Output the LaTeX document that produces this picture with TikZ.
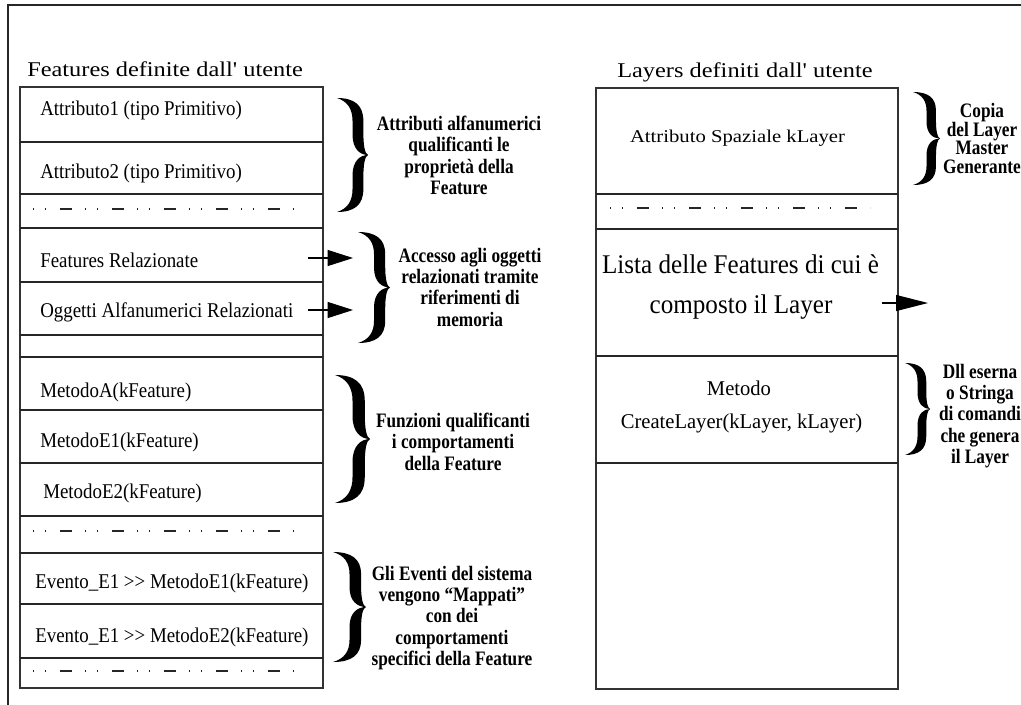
\documentclass[tikz,border=0pt]{standalone}
\usepackage{fontspec}
\setmainfont{Liberation Serif}
\newfontfamily\titlefont[FakeStretch=1.16]{Liberation Serif}
\newfontfamily\rowfont[FakeStretch=0.9]{Liberation Serif}
\newfontfamily\spatfont[FakeStretch=1.15]{Liberation Serif}
\newfontfamily\listfont[FakeStretch=0.93]{Liberation Serif}
\newfontfamily\methfont[FakeStretch=0.98]{Liberation Serif}
\newfontfamily\annfont[FakeStretch=0.84]{Liberation Serif}
\usetikzlibrary{arrows.meta}
\newcommand\BraceShape[4]{%
  \fill[shift={(#1,#2)}, xscale=#3, yscale=#4]
    (0,0) .. controls (0.55,0) and (0.85,0.06) .. (0.85,0.2)
    -- (0.85,0.3) .. controls (0.85,0.42) and (0.9,0.49) .. (1,0.5)
    .. controls (0.9,0.51) and (0.85,0.58) .. (0.85,0.7)
    -- (0.85,0.8) .. controls (0.85,0.94) and (0.55,1) .. (0,1)
    .. controls (0.35,0.97) and (0.5,0.9) .. (0.5,0.8)
    -- (0.5,0.68) .. controls (0.5,0.55) and (0.75,0.5) .. (1,0.5)
    .. controls (0.75,0.5) and (0.5,0.45) .. (0.5,0.32)
    -- (0.5,0.2) .. controls (0.5,0.1) and (0.35,0.03) .. (0,0) -- cycle;}
\tikzset{
  frameline/.style={line width=1pt, black!85},
  boxline/.style={line width=1.1pt, black!80},
  rowline/.style={line width=0.9pt, black!85},
  thickline/.style={line width=1.8pt, black!85},
  dashdotline/.style={line width=1.2pt, black!85, dash pattern=on 1.1pt off 7.9pt on 1.1pt off 10.1pt on 9pt off 9.8pt},
  titletext/.style={inner sep=0, anchor=base west, font=\titlefont\fontsize{15.75}{18}\selectfont},
  rowtext/.style={inner sep=0, anchor=base west, font=\rowfont\fontsize{15.75}{18}\selectfont},
  spattext/.style={inner sep=0, anchor=base, font=\spatfont\fontsize{13.5}{16}\selectfont},
  listtext/.style={inner sep=0, anchor=base, font=\listfont\fontsize{20.25}{24}\selectfont},
  methtext/.style={inner sep=0, anchor=base, font=\methfont\fontsize{15.75}{18}\selectfont},
  annot/.style={inner sep=0, anchor=north, align=center, font=\annfont\bfseries\fontsize{15.4}{15.9}\selectfont},
  annotsmall/.style={inner sep=0, anchor=north, align=center, font=\annfont\bfseries\fontsize{15.4}{14}\selectfont},
  pointer/.style={line width=0.8pt, -{Triangle[length=19pt,width=12pt]}},
  pointerbig/.style={line width=0.8pt, -{Triangle[length=24pt,width=12pt]}},
}
\begin{document}
\begin{tikzpicture}[x=0.75pt,y=-0.75pt]
\clip (0,0) rectangle (1021,704);
\fill[white] (0,0) rectangle (1021,704);
% outer frame
\draw[frameline] (8,720) -- (8,5) -- (1040,5);

% titles
\node[titletext] (t1) at (27,76) {Features definite dall' utente};
\node[titletext] (t2) at (617,77) {Layers definiti dall' utente};

% left box
\draw[boxline] (20,87) rectangle (323,688);
\foreach \yy in {142,194,228,282,335,357,463,516,553,604,658}
  \draw[rowline] (20,\yy) -- (323,\yy);
\draw[thickline] (20,410) -- (323,410);
\draw[dashdotline] (33,209) -- (294,209);
\draw[dashdotline] (33,531) -- (294,531);
\draw[dashdotline] (33,671) -- (294,671);

\node[rowtext] (r1) at (40,115) {Attributo1 (tipo Primitivo)};
\node[rowtext] (r2) at (40,178) {Attributo2 (tipo Primitivo)};
\node[rowtext] (r3) at (40,267) {Features Relazionate};
\node[rowtext] (r4) at (40,317) {Oggetti Alfanumerici Relazionati};
\node[rowtext] (r5) at (40,397) {MetodoA(kFeature)};
\node[rowtext] (r6) at (40,447) {MetodoE1(kFeature)};
\node[rowtext] (r7) at (43,498) {MetodoE2(kFeature)};
\node[rowtext] (r8) at (35,588) {Evento\_E1 >> MetodoE1(kFeature)};
\node[rowtext] (r9) at (35,642) {Evento\_E1 >> MetodoE2(kFeature)};

% right box
\draw[boxline] (596,88) rectangle (898,689);
\foreach \yy in {194,356,463}
  \draw[rowline] (596,\yy) -- (898,\yy);
\draw[thickline] (596,229) -- (898,229);
\draw[dashdotline] (610,208) -- (870,208);

\node[spattext] (s1) at (737.5,142) {Attributo Spaziale kLayer};
\node[listtext] (s2) at (740.5,273) {Lista delle Features di cui è};
\node[listtext] (s3) at (741,313) {composto il Layer};
\node[methtext] (s4) at (739,395) {Metodo};
\node[methtext] (s5) at (741.5,428) {CreateLayer(kLayer, kLayer)};

% arrows
\coordinate (a1s) at (308,258);
\coordinate (a1e) at (353,258);
\coordinate (a2s) at (308,310);
\coordinate (a2e) at (353,310);
\coordinate (a3s) at (882,303);
\coordinate (a3e) at (928,303);
\draw[pointer] (a1s) -- (a1e);
\draw[pointer] (a2s) -- (a2e);
\draw[pointerbig] (a3s) -- (a3e);

% braces
\BraceShape{337}{98}{31}{114}
\BraceShape{358}{232}{32}{111}
\BraceShape{335}{375}{35}{128}
\BraceShape{333}{552}{33}{110}
\BraceShape{913}{92}{27}{93}
\BraceShape{905}{363}{25}{92}

% annotations
\node[annot] (n1) at (459,116) {Attributi alfanumerici\\qualificanti le\\proprietà della\\Feature};
\node[annot] (n2) at (470,248) {Accesso agli oggetti\\relazionati tramite\\riferimenti di\\memoria};
\node[annot] (n3) at (453,413) {Funzioni qualificanti\\i comportamenti\\della Feature};
\node[annot] (n4) at (452,566) {Gli Eventi del sistema\\vengono “Mappati”\\con dei\\comportamenti\\specifici della Feature};
\node[annotsmall] (n5) at (982,103) {Copia\\del Layer\\Master\\Generante};
\node[annot] (n6) at (980,364) {Dll eserna\\o Stringa\\di comandi\\che genera\\il Layer};
\end{tikzpicture}
\end{document}
